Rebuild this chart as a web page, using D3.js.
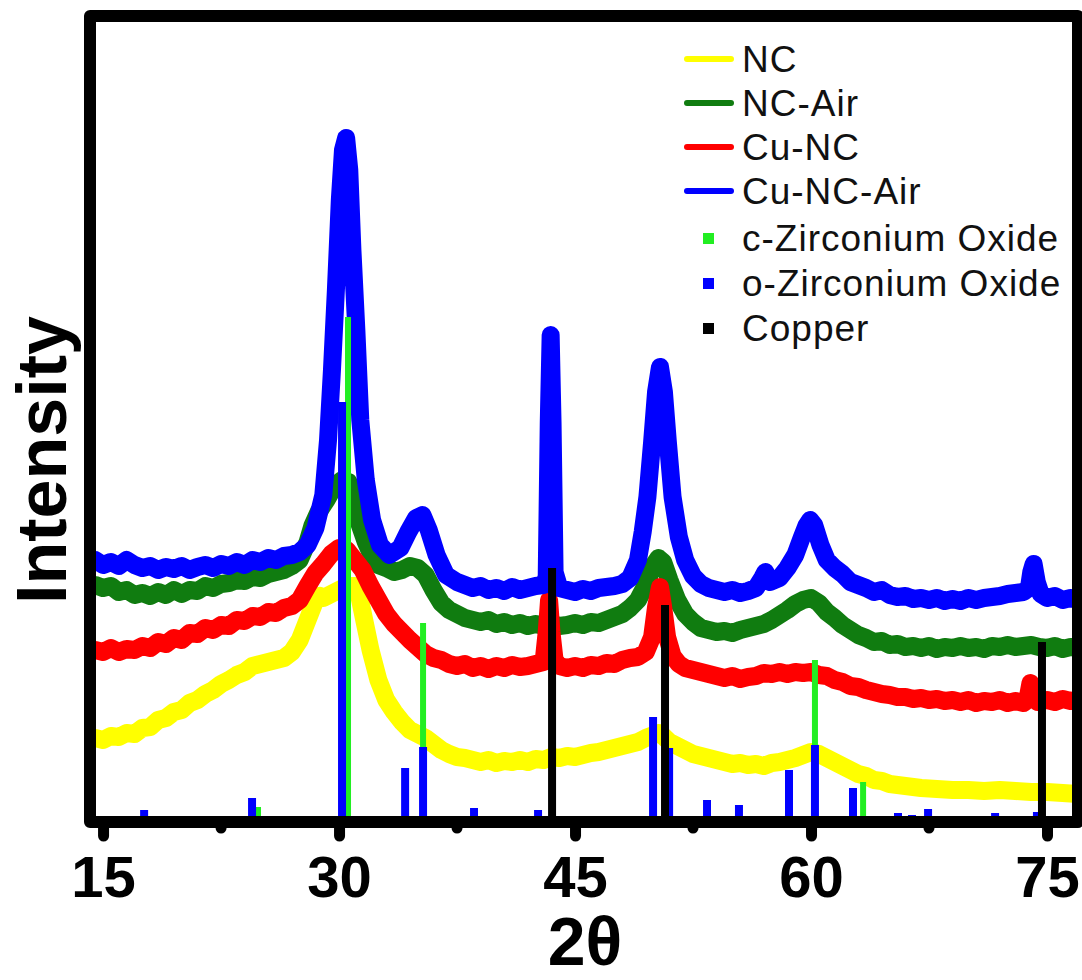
<!DOCTYPE html>
<html>
<head>
<meta charset="utf-8">
<script src="https://cdn.jsdelivr.net/npm/d3@7"></script>
<style>
  body { margin: 0; background: #fff; }
  text { font-family: "Liberation Sans", Arial, sans-serif; }
</style>
</head>
<body>
<div id="chart"></div>
<script>
// 2theta, intensity (a.u.)
var nc = [[14.5,84],[15,82],[15.5,86],[16,85],[16.5,89],[17,88],[17.5,94],[18,95],[18.5,102],[19,104],[19.5,110],[20,112],[20.5,119],[21,122],[21.5,128],[22,132],[22.5,138],[23,142],[23.5,147],[24,150],[24.5,156],[25,158],[25.5,160],[26,162],[26.5,164],[27,170],[27.5,182],[28,202],[28.5,222],[28.8,226],[29,224],[29.5,228],[30,232],[30.5,236],[31,236],[31.3,225],[31.6,202],[32,172],[32.5,142],[33,122],[33.5,110],[34,100],[34.5,92],[35,88],[35.5,84],[36,78],[36.5,72],[37,68],[37.5,65],[38,64],[38.5,62],[39,60],[39.5,62],[40,59],[40.5,61],[41,60],[41.5,62],[42,60],[42.5,63],[43,62],[43.5,65],[44,64],[44.5,66],[45,65],[45.5,67],[46,69],[46.5,70],[47,72],[47.5,74],[48,76],[48.5,78],[49,80],[49.5,84],[50,87],[50.3,89],[50.6,86],[51,80],[51.5,76],[52,72],[52.5,68],[53,66],[53.5,64],[54,62],[54.5,60],[55,58],[55.5,59],[56,57],[56.5,58],[57,56],[57.5,59],[58,60],[58.5,62],[59,64],[59.5,67],[60,70],[60.5,68],[61,64],[61.5,60],[62,56],[62.5,52],[63,48],[63.5,46],[64,42],[64.5,41],[65,38],[65.5,37],[66,36],[66.5,35],[67,34],[68,33],[69,32],[70,32],[71,31],[72,32],[73,31],[74,30],[75,30],[76,29],[76.95,28]]
var ncAir = [[14.5,237],[15,234],[15.5,236],[16,230],[16.5,232],[17,227],[17.5,229],[18,226],[18.5,230],[19,227],[19.5,232],[20,228],[20.5,232],[21,231],[21.5,236],[22,234],[22.5,238],[23,239],[23.5,242],[24,241],[24.5,245],[25,244],[25.5,248],[26,250],[26.5,252],[27,256],[27.5,262],[28,280],[28.3,296],[28.7,310],[29.2,322],[29.7,336],[30.2,342],[30.6,340],[31,322],[31.3,298],[31.7,280],[32.1,266],[32.5,257],[33,254],[33.5,250],[34,252],[34.5,256],[35,254],[35.5,247],[36,232],[36.5,219],[37,212],[37.5,208],[38,204],[38.5,202],[39,200],[39.5,202],[40,198],[40.5,200],[41,197],[41.5,199],[42,196],[42.5,198],[43,196],[43.5,198],[44,196],[44.5,197],[45,199],[45.5,197],[46,200],[46.5,199],[47,202],[47.5,205],[48,208],[48.5,214],[49,222],[49.5,237],[50,257],[50.3,264],[50.6,260],[51,242],[51.5,222],[52,208],[52.5,200],[53,194],[53.5,192],[54,190],[54.5,191],[55,189],[55.5,192],[56,194],[56.5,196],[57,198],[57.5,202],[58,207],[58.5,212],[59,218],[59.5,222],[60,224],[60.5,219],[61,210],[61.5,204],[62,197],[62.5,192],[63,187],[63.5,184],[64,180],[64.5,181],[65,177],[65.5,178],[66,175],[66.5,176],[67,174],[67.5,176],[68,173],[68.5,175],[69,174],[69.5,176],[70,174],[70.5,175],[71,173],[71.5,176],[72,175],[72.5,177],[73,175],[73.5,176],[74,177],[74.5,175],[75,174],[75.5,176],[76,173],[76.5,175],[76.95,174]]
var cuNC = [[14.5,172],[15,170],[15.5,174],[16,170],[16.5,173],[17,172],[17.5,176],[18,174],[18.5,180],[19,178],[19.5,184],[20,182],[20.5,189],[21,188],[21.5,194],[22,192],[22.5,197],[23,196],[23.5,202],[24,201],[24.5,206],[25,205],[25.5,210],[26,209],[26.5,214],[27,216],[27.5,222],[28,236],[28.5,249],[29,258],[29.5,268],[30,274],[30.5,272],[31,262],[31.5,252],[32,236],[32.5,222],[33,208],[33.5,198],[34,190],[34.5,182],[35,175],[35.5,168],[36,164],[36.5,162],[37,158],[37.5,156],[38,158],[38.5,154],[39,156],[39.5,153],[40,156],[40.5,154],[41,157],[41.5,155],[42,156],[42.5,158],[43,160],[43.2,190],[43.35,222],[43.5,190],[43.7,162],[44,156],[44.5,154],[45,156],[45.5,154],[46,157],[46.5,156],[47,159],[47.5,158],[48,162],[48.5,164],[49,165],[49.5,170],[49.9,185],[50.15,215],[50.4,235],[50.6,215],[50.85,185],[51.2,166],[51.6,158],[52,154],[52.5,152],[53,150],[53.5,148],[54,146],[54.5,144],[55,146],[55.5,143],[56,145],[56.5,146],[57,149],[57.5,148],[58,150],[58.5,148],[59,150],[59.5,149],[60,150],[60.5,147],[61,146],[61.5,142],[62,140],[62.5,136],[63,135],[63.5,132],[64,130],[64.5,128],[65,127],[65.5,125],[66,125],[66.5,123],[67,124],[67.5,122],[68,123],[68.5,121],[69,122],[69.5,120],[70,122],[70.5,119],[71,121],[71.5,120],[72,122],[72.5,119],[73,121],[73.5,119],[73.75,122],[73.95,139],[74.15,132],[74.4,120],[75,122],[75.5,120],[76,123],[76.5,121],[76.95,122]]
var cuNCAir = [[14.5,262],[15,257],[15.5,260],[16,256],[16.5,262],[17,257],[17.5,254],[18,256],[18.5,252],[19,255],[19.5,253],[20,256],[20.5,252],[21,255],[21.5,257],[22,254],[22.5,258],[23,256],[23.5,260],[24,257],[24.5,262],[25,260],[25.5,264],[26,262],[26.5,266],[27,267],[27.5,270],[28,277],[28.5,294],[29,327],[29.3,382],[29.55,452],[29.8,532],[30.05,622],[30.25,672],[30.45,684],[30.65,652],[30.85,572],[31.1,492],[31.35,402],[31.7,342],[32.1,302],[32.6,277],[33.2,267],[33.9,274],[34.4,290],[34.9,304],[35.3,307],[35.7,292],[36.2,267],[36.8,247],[37.5,240],[38,237],[38.5,234],[39,236],[39.5,232],[40,234],[40.5,231],[41,235],[41.5,232],[42,234],[42.5,236],[43,237],[43.2,245],[43.33,400],[43.45,487],[43.57,400],[43.7,250],[44,234],[44.5,232],[45,230],[45.5,233],[46,231],[46.5,234],[47,235],[47.5,236],[48,238],[48.5,244],[49,262],[49.3,290],[49.6,325],[49.9,380],[50.15,430],[50.4,455],[50.65,430],[50.9,380],[51.2,325],[51.6,285],[52,262],[52.5,246],[53,238],[53.5,234],[54,232],[54.5,230],[55,232],[55.5,229],[56,231],[56.5,234],[56.9,244],[57.1,250],[57.4,240],[58,244],[58.5,254],[59,267],[59.4,284],[59.7,296],[59.95,302],[60.2,297],[60.6,277],[61,262],[61.5,254],[62,248],[62.5,240],[63,237],[63.5,234],[64,230],[64.5,232],[65,227],[65.5,225],[66,226],[66.5,223],[67,224],[67.5,222],[68,224],[68.5,221],[69,223],[69.5,221],[70,224],[70.5,222],[71,224],[71.5,225],[72,226],[72.5,228],[73,229],[73.5,230],[73.85,234],[74.0,250],[74.15,258],[74.35,240],[74.6,228],[75,224],[75.5,226],[76,222],[76.5,224],[76.95,222]]

// reference patterns: 2theta, relative height
var cZrO2 = [[24.85,15],[30.57,505],[35.34,199],[60.25,162],[63.31,40]]
var oZrO2 = [[17.61,12],[24.47,24],[30.19,420],[34.2,54],[35.34,75],[38.58,14],[39.73,6],[42.65,12],[49.96,105],[50.98,74],[53.39,22],[54.03,6],[55.42,17],[57.2,4],[58.6,52],[60.25,77],[62.67,34],[65.53,9],[66.42,7],[67.44,13],[68.64,4],[71.7,9],[74.36,10],[75.83,4],[76.78,4]]
var copper = [[43.54,254],[50.72,217],[74.68,180]]

var majorTicks = [15, 30, 45, 60, 75]
var minorTicks = [22.5, 37.5, 52.5, 67.5]

var series = [
  {name: 'NC', data: nc, color: '#ffff00'},
  {name: 'NC-Air', data: ncAir, color: '#107c10'},
  {name: 'Cu-NC', data: cuNC, color: '#ff0000'},
  {name: 'Cu-NC-Air', data: cuNCAir, color: '#0000ff'}
]
var refs = [
  {name: 'c-Zirconium Oxide', data: cZrO2, color: '#22ee22', w: 6},
  {name: 'o-Zirconium Oxide', data: oZrO2, color: '#0000ff', w: 8},
  {name: 'Copper', data: copper, color: '#000000', w: 8}
]

var width = 1082, height = 980
var margin = {top: 16, right: 4, bottom: 158, left: 90}
var chart = d3.select('#chart').append('svg').attr('width', width).attr('height', height)

var x = d3.scaleLinear().domain([14.17, 76.97]).range([margin.left, width - margin.right])
var y = d3.scaleLinear().domain([0, 806]).range([height - margin.bottom, margin.top])

var line = d3.line()
  .x(function (d) { return x(d[0]) })
  .y(function (d) { return y(d[1]) })

// draw order: green under red, blue on top
var drawOrder = [1, 0, 2, 3]
chart.append('g').selectAll('path')
  .data(drawOrder.map(function (i) { return series[i] }))
  .enter()
  .append('path')
  .attr('d', function (d) { return line(d.data) })
  .attr('fill', 'none')
  .attr('stroke', function (d) { return d.color })
  .attr('stroke-width', 18)
  .attr('stroke-linejoin', 'round')
  .attr('stroke-linecap', 'round')

// stick patterns
refs.forEach(function (r) {
  chart.append('g').selectAll('line')
    .data(r.data)
    .enter()
    .append('line')
    .attr('x1', function (d) { return x(d[0]) })
    .attr('x2', function (d) { return x(d[0]) })
    .attr('y1', y(0))
    .attr('y2', function (d) { return y(d[1]) })
    .attr('stroke', r.color)
    .attr('stroke-width', r.w)
})

// frame
chart.append('rect')
  .attr('x', x.range()[0]).attr('y', y.range()[1])
  .attr('width', x.range()[1] - x.range()[0])
  .attr('height', y.range()[0] - y.range()[1])
  .attr('fill', 'none')
  .attr('stroke', '#000')
  .attr('stroke-width', 12)
  .attr('stroke-linejoin', 'round')

// x axis
var xAxis = d3.axisBottom(x).tickValues(majorTicks).tickSize(14).tickFormat(d3.format('d'))
var gx = chart.append('g')
  .attr('transform', 'translate(0,' + y(0) + ')')
  .call(xAxis)
gx.select('.domain').remove()
gx.selectAll('.tick line')
  .attr('stroke', '#000').attr('stroke-width', 11).attr('stroke-linecap', 'round')
gx.selectAll('.tick text')
  .attr('y', 75).attr('dy', 0)
  .attr('fill', '#000')
  .style('font-size', '58px').style('font-weight', 'bold')
  .style('font-family', '"Liberation Sans", Arial, sans-serif')

chart.append('g').selectAll('line')
  .data(minorTicks)
  .enter()
  .append('line')
  .attr('x1', function (d) { return x(d) })
  .attr('x2', function (d) { return x(d) })
  .attr('y1', y(0))
  .attr('y2', y(0) + 6)
  .attr('stroke', '#000').attr('stroke-width', 11).attr('stroke-linecap', 'round')

// axis titles
chart.append('text')
  .attr('x', 585).attr('y', 965)
  .attr('text-anchor', 'middle')
  .style('font-size', '68px').style('font-weight', 'bold')
  .text('2θ')
chart.append('text')
  .attr('transform', 'translate(66,460) rotate(-90)')
  .attr('text-anchor', 'middle')
  .style('font-size', '70px').style('font-weight', 'bold')
  .text('Intensity')

// legend
var legendRows = [59, 103, 147, 191, 238, 283, 328]
var legend = chart.append('g')
series.forEach(function (s, i) {
  legend.append('line')
    .attr('x1', 687).attr('x2', 731)
    .attr('y1', legendRows[i]).attr('y2', legendRows[i])
    .attr('stroke', s.color).attr('stroke-width', 6).attr('stroke-linecap', 'round')
})
refs.forEach(function (r, i) {
  legend.append('rect')
    .attr('x', 703).attr('y', legendRows[i + 4] - 5)
    .attr('width', 11).attr('height', 11)
    .attr('fill', r.color)
})
legend.selectAll('text')
  .data(series.map(function (s) { return s.name }).concat(refs.map(function (r) { return r.name })))
  .enter()
  .append('text')
  .attr('x', 742)
  .attr('y', function (d, i) { return legendRows[i] })
  .attr('dy', '0.36em')
  .style('font-size', '37px')
  .style('letter-spacing', '1px')
  .attr('fill', '#111')
  .text(function (d) { return d })
</script>
</body>
</html>
